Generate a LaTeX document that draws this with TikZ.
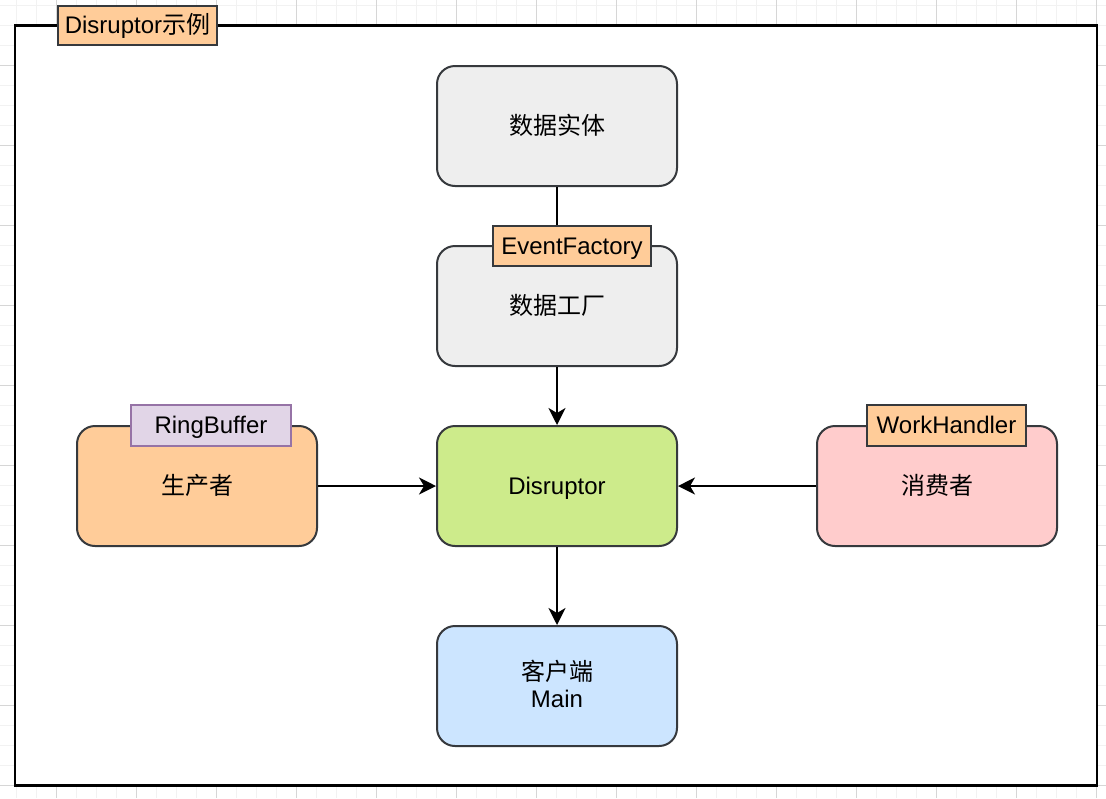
\documentclass[tikz,border=0pt]{standalone}
\usepackage{fontspec}
\setmainfont{Liberation Sans}
\newfontfamily\cjk{Noto Sans CJK SC}
\usetikzlibrary{arrows.meta}
\definecolor{strokeg}{HTML}{36393D}
\definecolor{fillgray}{HTML}{EEEEEE}
\definecolor{fillorange}{HTML}{FFCC99}
\definecolor{fillgreen}{HTML}{CDEB8B}
\definecolor{fillpink}{HTML}{FFCCCC}
\definecolor{fillblue}{HTML}{CCE5FF}
\definecolor{fillpurple}{HTML}{E1D5E7}
\definecolor{strokepurple}{HTML}{9673A6}
\definecolor{gridminor}{HTML}{F2F2F2}
\definecolor{gridmajor}{HTML}{D6D6D6}
\begin{document}
\begin{tikzpicture}[x=0.5pt,y=-0.5pt,
  every node/.style={font=\fontsize{12}{14.4}\selectfont, text=black},
  minorgrid/.style={draw=gridminor, line width=0.5pt},
  majorgrid/.style={draw=gridmajor, line width=0.5pt},
  frame/.style={draw=black, line width=1.25pt, fill=white, minimum width=541pt, minimum height=380pt, inner sep=0pt},
  box/.style={draw=strokeg, line width=1pt, rounded corners=9pt, minimum width=120pt, minimum height=60pt, inner sep=0pt, text height=9.6pt, text depth=1pt},
  tag/.style={draw=strokeg, line width=1pt, fill=fillorange, minimum width=79pt, minimum height=20pt, inner sep=0pt, text height=9.4pt, text depth=1.2pt},
  link/.style={draw=black, line width=1pt},
  arrow/.style={link, -{Stealth[length=8.5pt,width=8.5pt,inset=2.5pt]}}
]
\useasboundingbox (0,0) rectangle (1106,798);
% background grid
\foreach \i in {0,...,54} \draw[minorgrid] ({16.5+20*\i},0) -- ({16.5+20*\i},798);
\foreach \j in {0,...,39} \draw[minorgrid] (0,{5+20*\j}) -- (1106,{5+20*\j});
\foreach \i in {0,...,13} \draw[majorgrid] ({56.5+80*\i},0) -- ({56.5+80*\i},798);
\foreach \j in {0,...,9} \draw[majorgrid] (0,{65+80*\j}) -- (1106,{65+80*\j});
% container
\node[frame] (frame) at (556,405.5) {};
\node[tag, minimum width=79.5pt, minimum height=19.5pt] (title) at (137.5,25.5) {Disruptor{\cjk 示例}};
% nodes
\node[box, fill=fillgray] (entity) at (557,126) {\cjk 数据实体};
\node[box, fill=fillgray] (factory) at (557,306) {\cjk 数据工厂};
\node[box, fill=fillgreen] (disruptor) at (557,486) {Disruptor};
\node[box, fill=fillorange] (producer) at (197,486) {\cjk 生产者};
\node[box, fill=fillpink] (consumer) at (937,486) {\cjk 消费者};
\node[box, fill=fillblue, align=center, text height=, text depth=, font=\fontsize{12}{13.8}\selectfont] (client) at (557,686) {{\cjk 客户端}\\[-0.2pt]Main\rule[-2.4pt]{0pt}{0pt}};
% connectors
\draw[link] (entity) -- (factory);
\draw[arrow] (factory) -- (disruptor);
\draw[arrow] (producer) -- (disruptor);
\draw[arrow] (consumer) -- (disruptor);
\draw[arrow] (disruptor) -- (client);
% tags
\node[tag] (eventfactory) at (572,246) {EventFactory};
\node[tag, fill=fillpurple, draw=strokepurple, minimum width=80pt, minimum height=20.5pt] (ringbuffer) at (211,425.5) {RingBuffer};
\node[tag, minimum width=79.5pt, minimum height=20.5pt] (workhandler) at (946.5,425.5) {WorkHandler};
\end{tikzpicture}
\end{document}
